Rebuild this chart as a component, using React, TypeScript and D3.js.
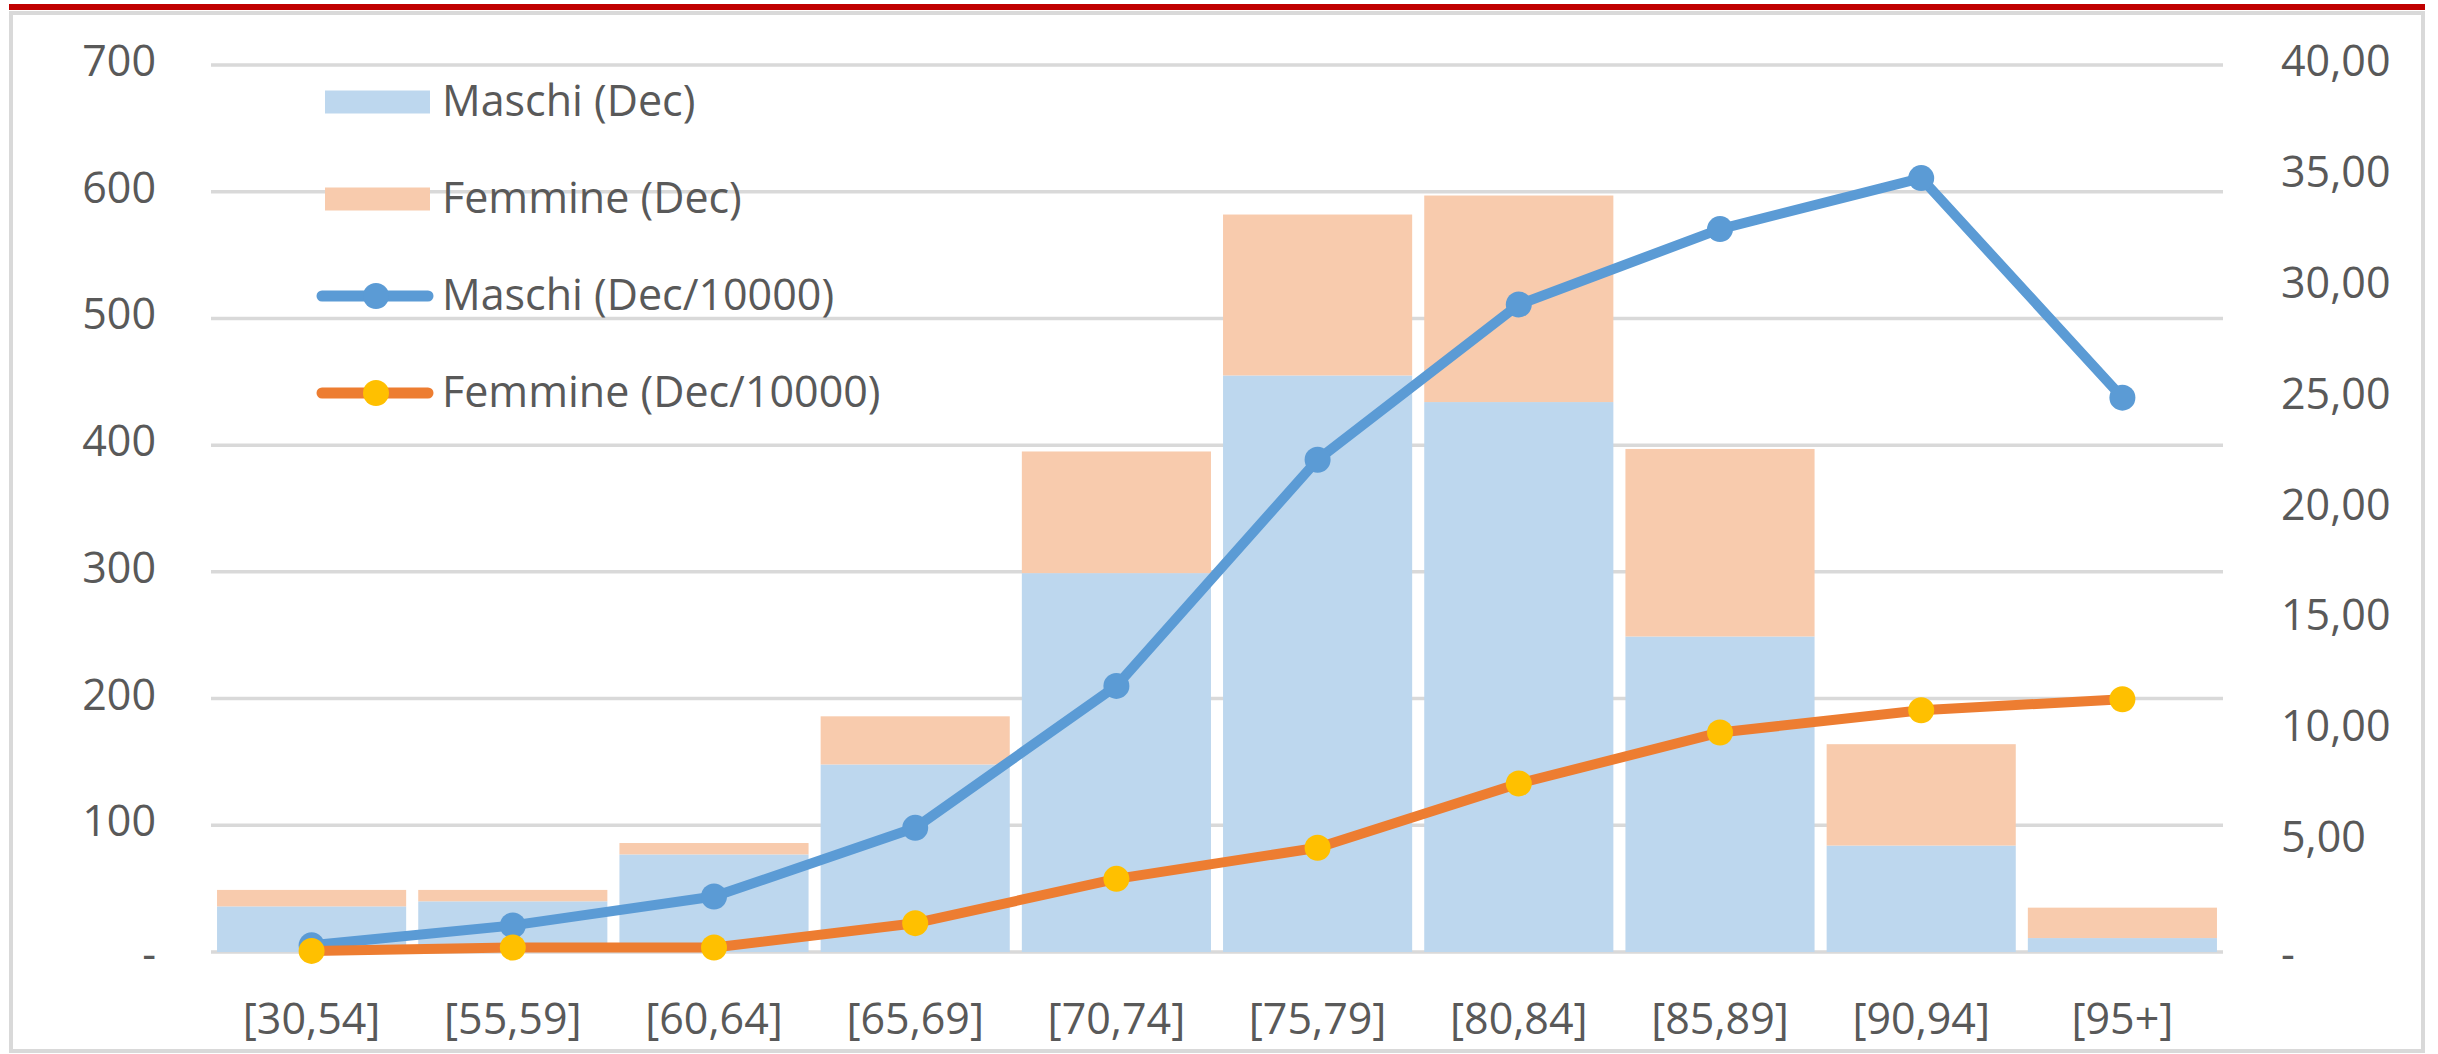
import * as d3 from "d3";
import React from "react";

const categories = ["[30,54]", "[55,59]", "[60,64]", "[65,69]", "[70,74]", "[75,79]", "[80,84]", "[85,89]", "[90,94]", "[95+]"];
const maschiDec = [36, 40, 77, 148, 299, 455, 434, 249, 84, 11];
const femmineDec = [13, 9, 9, 38, 96, 127, 163, 148, 80, 24];
const maschiRate = [0.3, 1.2, 2.5, 5.6, 12.0, 22.2, 29.2, 32.6, 34.9, 25.0];
const femmineRate = [0.05, 0.2, 0.2, 1.3, 3.3, 4.7, 7.6, 9.9, 10.9, 11.4];
const leftTicks = [0, 100, 200, 300, 400, 500, 600, 700];
const rightTicks = [0, 5, 10, 15, 20, 25, 30, 35, 40];

const W = 2438;
const H = 1054;
const font = "'Open Sans', 'Noto Sans', sans-serif";
const textCol = "#595959";

const App = () => {
  const x = d3.scaleBand().domain(categories).range([211, 2223]).paddingInner(0.06).paddingOuter(0.03);
  const y = d3.scaleLinear().domain([0, 700]).range([952, 65]);
  const y2 = d3.scaleLinear().domain([0, 40]).range([952, 65]);
  const cx = (c) => x(c) + x.bandwidth() / 2;

  // italian style: comma decimals, "-" for zero
  const fmtRight = (v) => (v === 0 ? "-" : d3.format(".2f")(v).replace(".", ","));

  const lineM = d3.line().x((d, i) => cx(categories[i])).y((d) => y2(d));

  const legend = [
    { label: "Maschi (Dec)", kind: "bar", color: "#BDD7EE" },
    { label: "Femmine (Dec)", kind: "bar", color: "#F8CBAD" },
    { label: "Maschi (Dec/10000)", kind: "line", color: "#5B9BD5", marker: "#5B9BD5" },
    { label: "Femmine (Dec/10000)", kind: "line", color: "#ED7D31", marker: "#FFC000" },
  ];

  return (
    <svg width={W} height={H} style={{ position: "absolute", left: 0, top: 0, background: "#fff" }} fontFamily={font}>
      <rect x={11} y={13} width={2412} height={1038} fill="#fff" stroke="#D9D9D9" strokeWidth={4} />
      <rect x={9} y={4} width={2416} height={6} fill="#C00000" />

      {/* gridlines */}
      {leftTicks.map((t) => (
        <line key={t} x1={211} x2={2223} y1={y(t)} y2={y(t)} stroke="#D9D9D9" strokeWidth={3.5} />
      ))}

      {/* left axis */}
      {leftTicks.map((t) => (
        <text key={t} x={156} y={t === 0 ? y(t) + 17 : y(t) + 11} textAnchor="end" fontSize={43} fill={textCol}>
          {t === 0 ? "-" : t}
        </text>
      ))}

      {/* right axis */}
      {rightTicks.map((t) => (
        <text key={t} x={2281} y={t === 0 ? y2(t) + 17 : y2(t) + 11} textAnchor="start" fontSize={43} fill={textCol}>
          {fmtRight(t)}
        </text>
      ))}

      {/* stacked bars */}
      {categories.map((c, i) => (
        <g key={c}>
          <rect x={x(c)} y={y(maschiDec[i])} width={x.bandwidth()} height={y(0) - y(maschiDec[i])} fill="#BDD7EE" />
          <rect
            x={x(c)}
            y={y(maschiDec[i] + femmineDec[i])}
            width={x.bandwidth()}
            height={y(maschiDec[i]) - y(maschiDec[i] + femmineDec[i])}
            fill="#F8CBAD"
          />
        </g>
      ))}

      {/* x labels */}
      {categories.map((c) => (
        <text key={c} x={cx(c)} y={1034} textAnchor="middle" fontSize={43} fill={textCol}>
          {c}
        </text>
      ))}

      {/* lines */}
      <path d={lineM(maschiRate)} fill="none" stroke="#5B9BD5" strokeWidth={10} strokeLinejoin="round" strokeLinecap="round" />
      {maschiRate.map((v, i) => (
        <circle key={i} cx={cx(categories[i])} cy={y2(v)} r={13} fill="#5B9BD5" />
      ))}
      <path d={lineM(femmineRate)} fill="none" stroke="#ED7D31" strokeWidth={10} strokeLinejoin="round" strokeLinecap="round" />
      {femmineRate.map((v, i) => (
        <circle key={i} cx={cx(categories[i])} cy={y2(v)} r={13} fill="#FFC000" />
      ))}

      {/* legend */}
      {legend.map((l, i) => {
        const ly = 102 + i * 97;
        return (
          <g key={l.label}>
            {l.kind === "bar" ? (
              <rect x={325} y={ly - 11.5} width={105} height={23} fill={l.color} />
            ) : (
              <g>
                <line x1={322} x2={428} y1={ly} y2={ly} stroke={l.color} strokeWidth={11} strokeLinecap="round" />
                <circle cx={376} cy={ly} r={13} fill={l.marker} />
              </g>
            )}
            <text x={442} y={ly + 14} fontSize={43} fill={textCol}>
              {l.label}
            </text>
          </g>
        );
      })}
    </svg>
  );
};

export default App;
